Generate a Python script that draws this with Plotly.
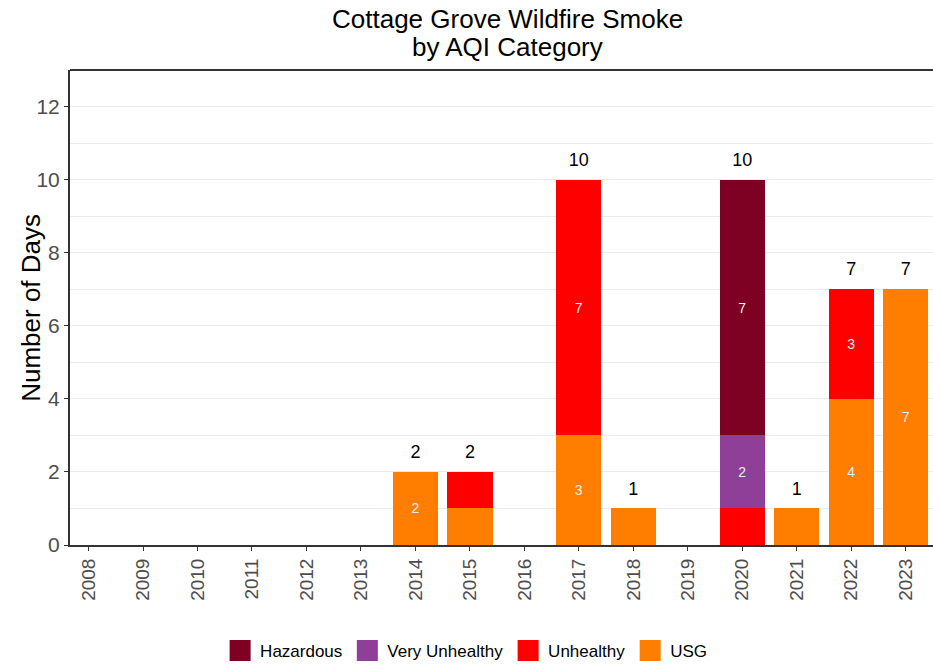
import plotly.graph_objects as go

years = [str(y) for y in range(2008, 2024)]
usg = [0, 0, 0, 0, 0, 0, 2, 1, 0, 3, 1, 0, 0, 1, 4, 7]
unhealthy = [0, 0, 0, 0, 0, 0, 0, 1, 0, 7, 0, 0, 1, 0, 3, 0]
very_unhealthy = [0, 0, 0, 0, 0, 0, 0, 0, 0, 0, 0, 0, 2, 0, 0, 0]
hazardous = [0, 0, 0, 0, 0, 0, 0, 0, 0, 0, 0, 0, 7, 0, 0, 0]

categories = [
    ("USG", usg, "#FF7E00"),
    ("Unhealthy", unhealthy, "#FF0000"),
    ("Very Unhealthy", very_unhealthy, "#8F3F97"),
    ("Hazardous", hazardous, "#7E0023"),
]

FONT = "Liberation Sans, Arial, sans-serif"

fig = go.Figure()

# stacked bars, bottom to top
for name, vals, col in categories:
    fig.add_trace(go.Bar(
        x=years, y=vals, name=name, marker=dict(color=col, line=dict(width=0)),
        text=[str(v) if v >= 2 else "" for v in vals],
        textposition="inside", insidetextanchor="middle",
        textfont=dict(size=14, color="#f0f0f0", family=FONT),
        showlegend=False, hoverinfo="x+y+name",
    ))

# totals above bars
totals = [a + b + c + d for a, b, c, d in zip(usg, unhealthy, very_unhealthy, hazardous)]
tx = [y for y, t in zip(years, totals) if t > 0]
ty = [t + 0.5 for t in totals if t > 0]
fig.add_trace(go.Scatter(
    x=tx, y=ty, mode="text", text=[str(t) for t in totals if t > 0],
    textfont=dict(size=18, color="black", family=FONT), showlegend=False, hoverinfo="skip",
))

# legend entries (Hazardous first)
for name, vals, col in reversed(categories):
    fig.add_trace(go.Scatter(
        x=[None], y=[None], mode="markers", name=name,
        marker=dict(symbol="square", size=16, color=col, line=dict(color=col, width=5)),
    ))

fig.update_layout(
    width=933, height=666,
    barmode="stack", bargap=0.17,
    plot_bgcolor="white", paper_bgcolor="white",
    font=dict(family=FONT, color="black"),
    margin=dict(l=70, r=0, t=70, b=121, autoexpand=False),
    legend=dict(orientation="h", x=0.459, xanchor="center", y=-0.223, yanchor="middle",
                traceorder="normal",
                font=dict(size=17, color="black", family=FONT), itemsizing="trace"),
)

# two-line title
fig.add_annotation(text="Cottage Grove Wildfire Smoke", xref="paper", yref="paper",
                   x=0.507, y=1.107, xanchor="center", yanchor="middle", showarrow=False,
                   font=dict(size=26, color="black", family=FONT))
fig.add_annotation(text="by AQI Category", xref="paper", yref="paper",
                   x=0.507, y=1.049, xanchor="center", yanchor="middle", showarrow=False,
                   font=dict(size=26, color="black", family=FONT))

# y axis title
fig.add_annotation(text="Number of Days", xref="paper", yref="paper",
                   x=-0.046, y=0.5, xanchor="center", yanchor="middle", textangle=-90,
                   showarrow=False, font=dict(size=26, color="black", family=FONT))

fig.update_xaxes(
    type="category", range=[-0.34, 15.5], automargin=False,
    showline=True, linecolor="#333333", linewidth=2, mirror=False,
    ticks="outside", ticklen=4, tickcolor="#333333",
    tickangle=-90, tickfont=dict(size=19, color="#4d4d4d", family=FONT),
    showgrid=False,
)
fig.update_yaxes(
    range=[0, 13], dtick=2, tick0=0, automargin=False,
    showline=True, linecolor="#333333", linewidth=2,
    ticks="outside", ticklen=4, tickcolor="#333333",
    tickfont=dict(size=21, color="#4d4d4d", family=FONT),
    showgrid=True, gridcolor="#ebebeb", gridwidth=1, zeroline=False,
    minor=dict(dtick=1, showgrid=True, gridcolor="#ebebeb", gridwidth=1),
)

# top border of the panel
fig.add_shape(type="line", xref="paper", yref="paper", x0=0, x1=1, y0=1, y1=1,
              line=dict(color="#333333", width=2))

fig.write_html("out.html", config={"displayModeBar": False},
               post_script="document.body.style.margin='0';document.body.style.overflow='hidden';")
